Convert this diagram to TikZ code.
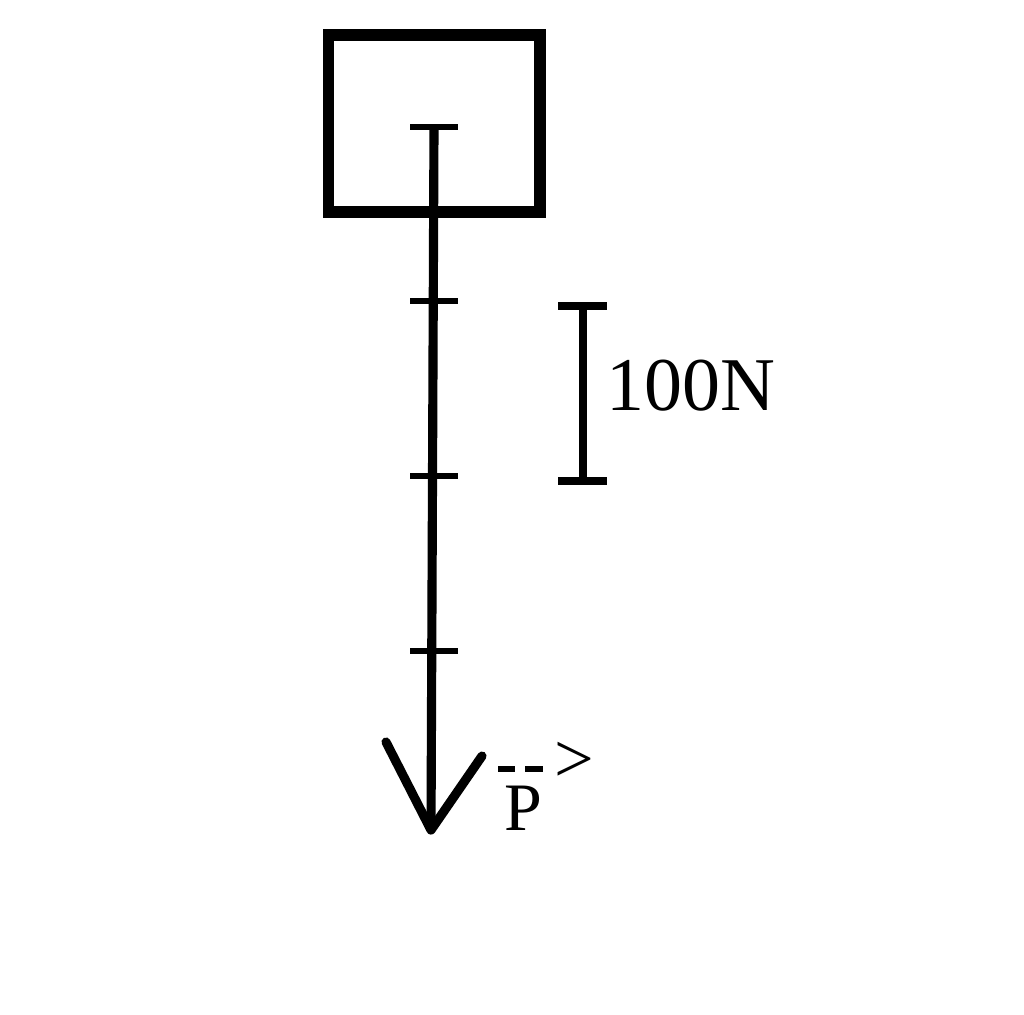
\documentclass[tikz,border=0pt]{standalone}
\usepackage{fontspec}
\setmainfont{Liberation Serif}
\begin{document}
\begin{tikzpicture}[x=0.01cm,y=-0.01cm,
  boxline/.style={line width=3.4pt},
  shaft/.style={line width=2.6pt},
  tick/.style={line width=1.8pt},
  scalebar/.style={line width=2.4pt},
  lbl/.style={inner sep=0pt,font=\fontsize{21.6}{24}\selectfont}]
\useasboundingbox (0,0) rectangle (1024,1014);
% body
\draw[boxline] (328.5,35) rectangle (540,212);
% force arrow
\coordinate (top) at (434,127);
\coordinate (tip) at (431,830);
\draw[shaft] (top) -- (tip);
\draw[shaft,line cap=round,line join=round] (386,742) -- (tip) -- (482,756);
% graduation ticks
\foreach \y/\n in {127/t0,301/t1,476/t2,651/t3}{
  \draw[tick] (410,\y) -- (458,\y);
}
% scale bar
\coordinate (s1) at (583,306);
\coordinate (s2) at (583,481);
\draw[scalebar] (s1) -- (s2);
\draw[scalebar] (558,306) -- (607,306);
\draw[scalebar] (558,481) -- (607,481);
\node[lbl,anchor=base west] (scale) at (606,410) {100N};
% label P
\node[lbl,anchor=base west,font=\fontsize{19.3}{22}\selectfont] (P) at (504,830) {P};
\draw[line width=1.5pt] (498,769) -- (515,769);
\draw[line width=1.5pt] (525,769) -- (543,769);
\node[lbl,font=\fontsize{20}{22}\selectfont] (gt) at (574,762) {>};
\end{tikzpicture}
\end{document}
